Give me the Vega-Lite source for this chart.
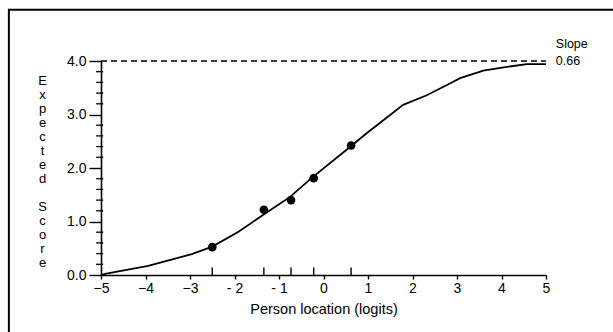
{
  "$schema": "https://vega.github.io/schema/vega-lite/v6.json",
  "autosize": {"type": "none"},
  "padding": {"left": 101, "top": 61, "right": 67, "bottom": 57},
  "width": 445,
  "height": 214,
  "background": "white",
  "config": {
    "view": {"stroke": null},
    "font": "Liberation Sans",
    "axis": {"grid": false, "domainColor": "black", "tickColor": "black", "labelColor": "black", "titleColor": "black", "domainWidth": 1.6, "tickWidth": 1.4, "labelFont": "Liberation Sans", "titleFont": "Liberation Sans", "titleFontWeight": "normal", "labelOverlap": false}
  },
  "datasets": {
    "curve": [
      {"x": -5, "y": 0}, {"x": -4.91, "y": 0.02}, {"x": -3.94, "y": 0.17}, {"x": -2.96, "y": 0.39},
      {"x": -2.5, "y": 0.53}, {"x": -1.91, "y": 0.81}, {"x": -1.31, "y": 1.15}, {"x": -1.2, "y": 1.21},
      {"x": -0.75, "y": 1.46}, {"x": -0.27, "y": 1.81}, {"x": 0.56, "y": 2.37}, {"x": 0.97, "y": 2.65},
      {"x": 1.79, "y": 3.18}, {"x": 2.32, "y": 3.36}, {"x": 2.84, "y": 3.58}, {"x": 3.07, "y": 3.68},
      {"x": 3.59, "y": 3.82}, {"x": 4.12, "y": 3.89}, {"x": 4.57, "y": 3.94}, {"x": 5.0, "y": 3.94}
    ],
    "points": [
      {"x": -2.5, "y": 0.52}, {"x": -1.34, "y": 1.22}, {"x": -0.73, "y": 1.4}, {"x": -0.22, "y": 1.81}, {"x": 0.62, "y": 2.42}
    ],
    "minor": [
      {"v": 0.2}, {"v": 0.4}, {"v": 0.6}, {"v": 0.8}, {"v": 1.2}, {"v": 1.4}, {"v": 1.6}, {"v": 1.8},
      {"v": 2.2}, {"v": 2.4}, {"v": 2.6}, {"v": 2.8}, {"v": 3.2}, {"v": 3.4}, {"v": 3.6}, {"v": 3.8}
    ],
    "notes": [
      {"x": 5.22, "y": 4.32, "label": "Slope"},
      {"x": 5.22, "y": 4.0, "label": "0.66"}
    ]
  },
  "layer": [
    {
      "data": {"name": "curve"},
      "mark": {"type": "line", "color": "black", "strokeWidth": 1.8, "clip": false},
      "encoding": {
        "x": {"field": "x", "type": "quantitative",
          "scale": {"domain": [-5, 5], "nice": false, "zero": false},
          "axis": {"values": [-5,-4,-3,-2,-1,0,1,2,3,4,5], "tickSize": 4, "labelFontSize": 14, "labelPadding": 2, "labelOverlap": false,
            "labelExpr": "datum.value == -2 ? '- 2' : datum.value == -1 ? '- 1' : datum.label",
            "title": "Person location (logits)", "titleFontSize": 14.5, "titlePadding": 7, "labelFlush": false}},
        "y": {"field": "y", "type": "quantitative",
          "scale": {"domain": [0, 4], "nice": false, "zero": false},
          "axis": {"values": [0, 1, 2, 3, 4], "format": ".1f", "tickSize": 12,
            "labelFontSize": 14, "labelPadding": 3, "labelFlush": false, "labelOverlap": false,
            "title": ["E","x","p","e","c","t","e","d","\u200b","S","c","o","r","e"],
            "titleAngle": 0, "titleFontSize": 13, "titleLineHeight": 14, "titleX": -59, "titleY": 19,
            "titleBaseline": "middle", "titleAlign": "center"}}
      }
    },
    {
      "data": {"name": "minor"},
      "mark": {"type": "rule", "color": "black", "strokeWidth": 1.3},
      "encoding": {"x": {"datum": -5.11}, "x2": {"datum": -4.95}, "y": {"field": "v", "type": "quantitative"}}
    },
    {
      "data": {"values": [{}]},
      "mark": {"type": "rect", "fill": null, "stroke": "black", "strokeWidth": 2, "clip": false},
      "encoding": {"x": {"datum": -7.07}, "x2": {"datum": 8.5}, "y": {"datum": 4.96}, "y2": {"datum": -1.6}}
    },
    {
      "data": {"values": [{}]},
      "mark": {"type": "rule", "color": "black", "strokeWidth": 1.6, "strokeDash": [6, 4]},
      "encoding": {"x": {"datum": -5}, "x2": {"datum": 5}, "y": {"datum": 4}}
    },
    {
      "data": {"name": "points"},
      "mark": {"type": "circle", "color": "black", "opacity": 1, "size": 75},
      "encoding": {"x": {"field": "x", "type": "quantitative"}, "y": {"field": "y", "type": "quantitative"}}
    },
    {
      "data": {"name": "points"},
      "mark": {"type": "rule", "color": "black", "strokeWidth": 1.4},
      "encoding": {"x": {"field": "x", "type": "quantitative"}, "y": {"datum": 0}, "y2": {"datum": 0.14}}
    },
    {
      "data": {"name": "notes"},
      "mark": {"type": "text", "align": "left", "baseline": "middle", "fontSize": 12.5, "color": "black", "font": "Liberation Sans", "clip": false},
      "encoding": {"x": {"field": "x", "type": "quantitative"}, "y": {"field": "y", "type": "quantitative"}, "text": {"field": "label"}}
    }
  ]
}
